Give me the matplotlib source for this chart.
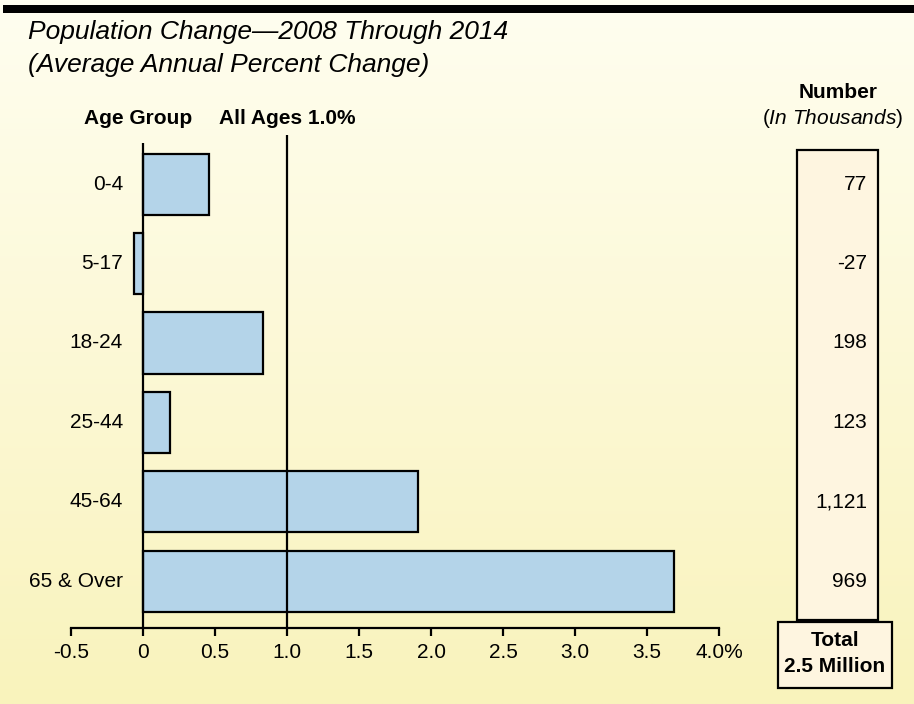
import matplotlib
matplotlib.use("Agg")
import matplotlib.pyplot as plt
import matplotlib.transforms as mtransforms
from matplotlib.patches import Rectangle
import numpy as np

plt.rcParams['font.family'] = ['Liberation Sans', 'DejaVu Sans']
plt.rcParams['mathtext.fontset'] = 'custom'
plt.rcParams['mathtext.rm'] = 'Liberation Sans'
plt.rcParams['mathtext.it'] = 'Liberation Sans:italic'

categories = ["0-4", "5-17", "18-24", "25-44", "45-64", "65 & Over"]
pct_change = [0.46, -0.06, 0.83, 0.19, 1.91, 3.69]
numbers = ["77", "-27", "198", "123", "1,121", "969"]
all_ages = 1.0
xticks = [-0.5, 0, 0.5, 1.0, 1.5, 2.0, 2.5, 3.0, 3.5, 4.0]
xticklabels = ["-0.5", "0", "0.5", "1.0", "1.5", "2.0", "2.5", "3.0", "3.5", "4.0%"]
title_lines = ["Population Change\u20142008 Through 2014", "(Average Annual Percent Change)"]
total_lines = ["Total", "2.5 Million"]

W, H = 914, 704
FS = 15
fig = plt.figure(figsize=(W / 100, H / 100), dpi=100)

def fx(px):
    return px / W

def fy(py):
    return 1 - py / H

# background gradient
bg = fig.add_axes([0, 0, 1, 1], zorder=-10)
top = np.array([0xFF, 0xFE, 0xF0]) / 255
bot = np.array([0xF9, 0xF3, 0xBC]) / 255
t = np.linspace(0, 1, 256)[:, None]
grad = top * (1 - t) + bot * t
bg.imshow(grad[:, None, :].repeat(2, axis=1), aspect='auto', extent=[0, 1, 0, 1])
bg.set_xlim(0, 1)
bg.set_ylim(0, 1)
bg.axis('off')

# top black band
fig.add_artist(Rectangle((fx(3), fy(13)), 1, fy(5) - fy(13), transform=fig.transFigure,
                         facecolor='black', edgecolor='none', zorder=-5))

# titles
fig.text(fx(28), fy(39), title_lines[0], fontsize=19, style='italic', va='baseline', ha='left')
fig.text(fx(28), fy(72), title_lines[1], fontsize=19, style='italic', va='baseline', ha='left')

# main axes
ax_top_px, ax_bot_px = 135, 628
ax = fig.add_axes([fx(71), fy(ax_bot_px), fx(719) - fx(71), (ax_bot_px - ax_top_px) / H])
ax.patch.set_alpha(0)
y = np.arange(len(categories))
ax.barh(y, pct_change, height=0.77, color='#B4D4E9', edgecolor='black', linewidth=1.6, zorder=2)
ax.set_xlim(-0.5, 4.0)
ax.set_ylim(5.59, -0.62)
ax.vlines(0, -0.52, 5.59, color='black', linewidth=1.6, zorder=3)
ax.vlines(all_ages, -0.62, 5.59, color='black', linewidth=1.6, zorder=3)
for s in ['top', 'right', 'left']:
    ax.spines[s].set_visible(False)
ax.spines['bottom'].set_linewidth(1.6)
ax.set_yticks([])
ax.set_xticks(xticks)
ax.set_xticklabels(xticklabels, fontsize=FS)
ax.tick_params(axis='x', direction='out', length=6, width=1.6, pad=5)

trans_lab = mtransforms.blended_transform_factory(fig.transFigure, ax.transData)
for yi, c in zip(y, categories):
    ax.text(fx(123), yi, c, transform=trans_lab, ha='right', va='center', fontsize=FS)

# headers
fig.text(fx(138), fy(118), "Age Group", fontsize=FS, fontweight='bold', ha='center', va='center')
fig.text(fx(287), fy(118), "All Ages 1.0%", fontsize=FS, fontweight='bold', ha='center', va='center')
fig.text(fx(838), fy(93), "Number", fontsize=FS, fontweight='bold', ha='center', va='center')
fig.text(fx(833), fy(118), r"($\mathit{In\ Thousands}$)", fontsize=FS, ha='center', va='center')

# number box
box_fc = '#FEF5E0'
fig.add_artist(Rectangle((fx(797), fy(620)), fx(878) - fx(797), fy(150) - fy(620),
                         transform=fig.transFigure, facecolor=box_fc, edgecolor='black',
                         linewidth=1.6, zorder=-5))
for yi, n in zip(y, numbers):
    ax.text(fx(867), yi, n, transform=trans_lab, ha='right', va='center', fontsize=FS)

fig.add_artist(Rectangle((fx(778), fy(688)), fx(892) - fx(778), fy(622) - fy(688),
                         transform=fig.transFigure, facecolor=box_fc, edgecolor='black',
                         linewidth=1.6, zorder=-5))
fig.text(fx(835), fy(641), total_lines[0], fontsize=FS, fontweight='bold', ha='center', va='center')
fig.text(fx(835), fy(666), total_lines[1], fontsize=FS, fontweight='bold', ha='center', va='center')

fig.savefig("out.png", dpi=100)
